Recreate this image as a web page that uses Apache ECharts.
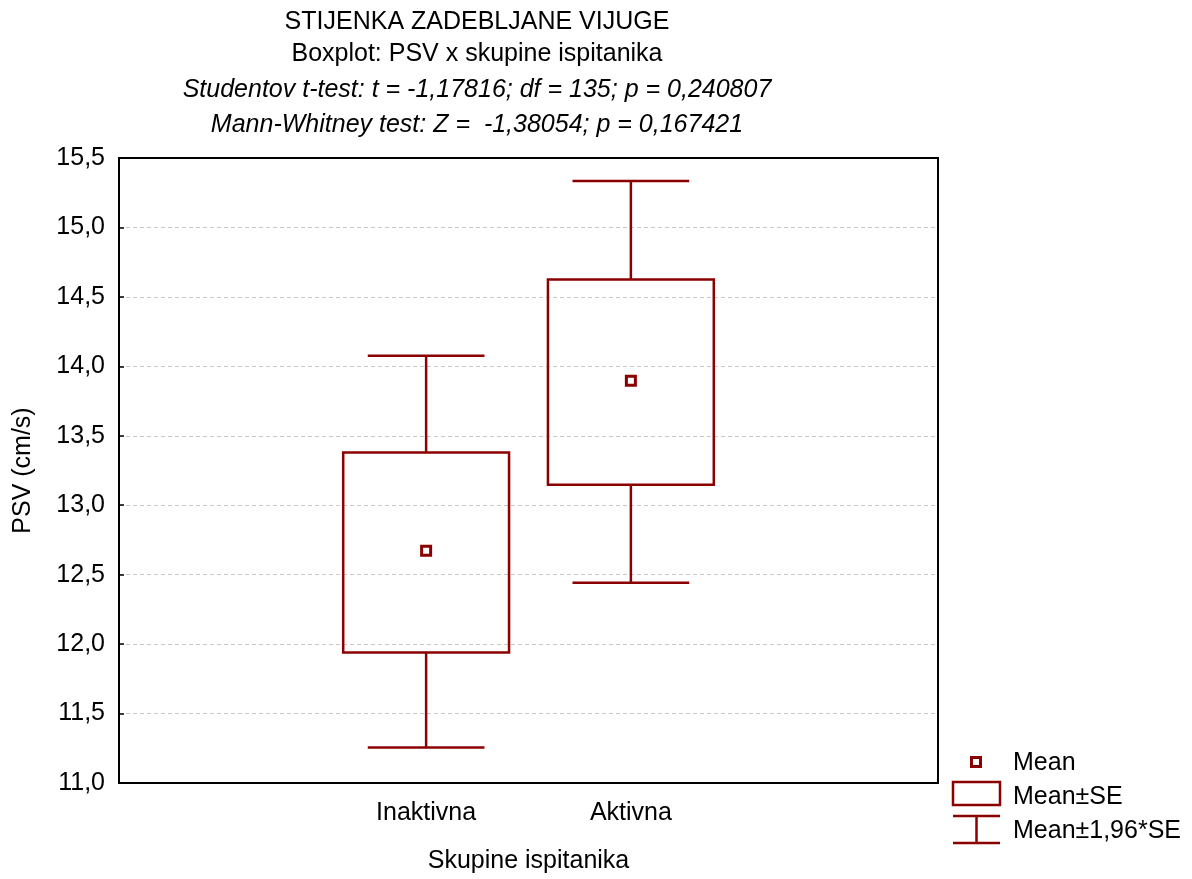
<!DOCTYPE html>
<html>
<head>
<meta charset="utf-8">
<script src="https://cdn.jsdelivr.net/npm/echarts@6/dist/echarts.min.js"></script>
<style>html,body{margin:0;padding:0;background:#fff}#c{width:1192px;height:879px}</style>
</head>
<body>
<div id="c"></div>
<script>
var categories = ['', 'Inaktivna', 'Aktivna', ''];
var groupIndex = [1, 2];
var meanVals = [12.673, 13.896];
var seLow = [11.94, 13.147];
var seHigh = [13.38, 14.625];
var ciLow = [11.255, 12.442];
var ciHigh = [14.076, 15.335];
var yTicks = { min: 11, max: 15.5, interval: 0.5 };

var RED = '#8B0000';
var FONT = '"Liberation Sans", Arial, sans-serif';
var FS = 25;

var data = groupIndex.map(function (g, i) {
  return [g, ciLow[i], seLow[i], meanVals[i], seHigh[i], ciHigh[i]];
});

function renderItem(params, api) {
  var x = api.value(0);
  var pLo = api.coord([x, api.value(1)]);
  var pQ1 = api.coord([x, api.value(2)]);
  var pM = api.coord([x, api.value(3)]);
  var pQ3 = api.coord([x, api.value(4)]);
  var pHi = api.coord([x, api.value(5)]);
  var band = api.size([1, 0])[0];
  var bw = band * 0.81;
  var cw = band * 0.57;
  var cx = pM[0];
  var ls = { stroke: RED, lineWidth: 2.5, fill: null };
  return {
    type: 'group',
    children: [
      { type: 'line', shape: { x1: cx, y1: pHi[1], x2: cx, y2: pQ3[1] }, style: ls },
      { type: 'line', shape: { x1: cx, y1: pQ1[1], x2: cx, y2: pLo[1] }, style: ls },
      { type: 'line', shape: { x1: cx - cw / 2, y1: pHi[1], x2: cx + cw / 2, y2: pHi[1] }, style: ls },
      { type: 'line', shape: { x1: cx - cw / 2, y1: pLo[1], x2: cx + cw / 2, y2: pLo[1] }, style: ls },
      { type: 'rect', shape: { x: cx - bw / 2, y: pQ3[1], width: bw, height: pQ1[1] - pQ3[1] }, style: { stroke: RED, lineWidth: 2.5, fill: 'rgba(0,0,0,0)' } },
      { type: 'rect', shape: { x: cx - 4.5, y: pM[1] - 4.5, width: 9, height: 9 }, style: { stroke: RED, lineWidth: 3, fill: '#fff' } }
    ]
  };
}

var chart = echarts.init(document.getElementById('c'), null, { renderer: 'canvas' });

var tstyle = { fontFamily: FONT, fontSize: FS, fontWeight: 'normal', color: '#000' };
function titleLine(text, top, italic) {
  return {
    text: text, left: 477, top: top, textAlign: 'center', padding: 0,
    textStyle: Object.assign({}, tstyle, { fontStyle: italic ? 'italic' : 'normal' })
  };
}

var legendX = 953;
var option = {
  animation: false,
  backgroundColor: '#fff',
  title: [
    titleLine('STIJENKA ZADEBLJANE VIJUGE', 10, false),
    titleLine('Boxplot: PSV x skupine ispitanika', 42, false),
    titleLine('Studentov t-test: t = -1,17816; df = 135; p = 0,240807', 78, true),
    titleLine('Mann-Whitney test: Z =  -1,38054; p = 0,167421', 113, true)
  ],
  grid: { left: 119, right: 254, top: 158, bottom: 96, outerBoundsMode: 'none', containLabel: false, show: true, borderColor: '#000', borderWidth: 2, backgroundColor: '#fff' },
  xAxis: {
    type: 'category',
    data: categories,
    name: 'Skupine ispitanika',
    nameLocation: 'middle',
    nameGap: 66,
    nameTextStyle: { fontFamily: FONT, fontSize: FS, color: '#000' },
    axisLine: { lineStyle: { color: '#000', width: 2 } },
    axisTick: { alignWithLabel: true, inside: true, length: 6, lineStyle: { color: '#000', width: 1.5 } },
    axisLabel: { fontFamily: FONT, fontSize: FS, color: '#000', margin: 18, interval: 0 },
    splitLine: { show: false }
  },
  yAxis: {
    type: 'value',
    min: yTicks.min, max: yTicks.max, interval: yTicks.interval,
    name: 'PSV (cm/s)',
    nameLocation: 'middle',
    nameGap: 83,
    nameTextStyle: { fontFamily: FONT, fontSize: FS, color: '#000' },
    axisLine: { show: true, lineStyle: { color: '#000', width: 2 } },
    axisTick: { show: true, inside: true, length: 5, lineStyle: { color: '#000', width: 1.5 } },
    axisLabel: {
      fontFamily: FONT, fontSize: FS, color: '#000', margin: 14,
      formatter: function (v) { return v.toFixed(1).replace('.', ','); }
    },
    splitLine: { show: true, showMinLine: false, showMaxLine: false, lineStyle: { color: '#c8c8c8', type: [4, 3], width: 1 } }
  },
  series: [{
    type: 'custom',
    renderItem: renderItem,
    data: data,
    encode: { x: 0, y: [1, 2, 3, 4, 5] },
    z: 5
  }],
  graphic: [
    { type: 'rect', shape: { x: 971.5, y: 757.5, width: 9, height: 9 }, style: { stroke: RED, lineWidth: 3, fill: '#fff' } },
    { type: 'text', x: 1013, y: 763, style: { text: 'Mean', font: FS + 'px ' + FONT, fill: '#000', textVerticalAlign: 'middle' } },
    { type: 'rect', shape: { x: legendX, y: 782, width: 47, height: 23 }, style: { stroke: RED, lineWidth: 2.5, fill: '#fff' } },
    { type: 'text', x: 1013, y: 797, style: { text: 'Mean±SE', font: FS + 'px ' + FONT, fill: '#000', textVerticalAlign: 'middle' } },
    { type: 'line', shape: { x1: legendX, y1: 816, x2: legendX + 47, y2: 816 }, style: { stroke: RED, lineWidth: 2.5 } },
    { type: 'line', shape: { x1: legendX + 23.5, y1: 816, x2: legendX + 23.5, y2: 843 }, style: { stroke: RED, lineWidth: 2.5 } },
    { type: 'line', shape: { x1: legendX, y1: 843, x2: legendX + 47, y2: 843 }, style: { stroke: RED, lineWidth: 2.5 } },
    { type: 'text', x: 1013, y: 831, style: { text: 'Mean±1,96*SE', font: FS + 'px ' + FONT, fill: '#000', textVerticalAlign: 'middle' } }
  ]
};
chart.setOption(option);
</script>
</body>
</html>
